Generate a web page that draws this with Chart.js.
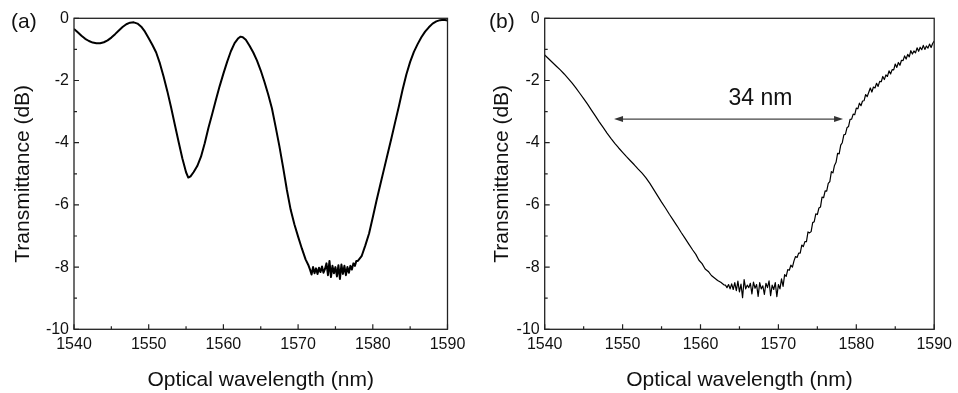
<!DOCTYPE html>
<html>
<head>
<meta charset="utf-8">
<script src="https://cdn.jsdelivr.net/npm/chart.js@4.4.1/dist/chart.umd.min.js"></script>
<style>
html,body{margin:0;padding:0;background:#fff;}
#wrap{position:relative;width:958px;height:393px;overflow:hidden;background:#fff;}
.panel{position:absolute;top:0;width:479px;height:393px;}
.lbl{position:absolute;font-family:"Liberation Sans",Arial,sans-serif;font-size:21px;line-height:21px;color:#111;white-space:nowrap;}
</style>
</head>
<body>
<div id="wrap">
  <div class="panel" style="left:0"><canvas id="ca"></canvas></div>
  <div class="panel" style="left:479px"><canvas id="cb"></canvas></div>
  <div class="lbl" style="left:11px;top:10px">(a)</div>
  <div class="lbl" style="left:489px;top:10px">(b)</div>
</div>
<script>
// ---------- data ----------
const panelLabels = ['(a)', '(b)'];
const xTitle = 'Optical wavelength (nm)';
const yTitle = 'Transmittance (dB)';
const xTickValues = [1540, 1550, 1560, 1570, 1580, 1590];
const xMinorTicks = [1545, 1555, 1565, 1575, 1585];
const yTickValues = [0, -2, -4, -6, -8, -10];
const yMinorTicks = [-1, -3, -5, -7, -9];

// panel (a)
const wavelengthA = [
  1540,1540.5,1541,1541.5,1542,1542.5,1543,1543.5,1544,1544.5,
  1545,1545.5,1546,1546.5,1547,1547.5,1548,1548.5,1549,1549.5,
  1550,1550.5,1551,1551.5,1552,1552.5,1553,1553.5,1554,1554.5,
  1555,1555.3,1555.6,1556,1556.5,1557,1557.5,1558,1558.5,1559,
  1559.5,1560,1560.5,1561,1561.5,1562,1562.3,1562.6,1563,1563.5,
  1564,1564.5,1565,1565.5,1566,1566.5,1567,1567.5,1568,1568.5,
  1569,1569.5,1570,1570.5,1571,1571.4,
  1571.6,1571.8,1572.0,1572.2,1572.4,1572.6,1572.8,1573.0,1573.2,1573.4,
  1573.6,1573.8,1574.0,1574.2,1574.4,1574.6,1574.8,1575.0,1575.2,1575.4,
  1575.6,1575.8,1576.0,1576.2,1576.4,1576.6,1576.8,1577.0,1577.2,1577.4,
  1577.6,1577.8,1578.0,
  1578.5,1579,1579.5,1580,1580.5,1581,1581.5,1582,1582.5,1583,
  1583.5,1584,1584.5,1585,1585.5,1586,1586.5,1587,1587.5,1588,
  1588.5,1589,1589.5,1590
];
const transA = [
  -0.34,-0.45,-0.56,-0.66,-0.73,-0.78,-0.80,-0.80,-0.77,-0.71,
  -0.62,-0.51,-0.39,-0.28,-0.19,-0.14,-0.13,-0.17,-0.27,-0.43,
  -0.64,-0.86,-1.10,-1.45,-1.88,-2.35,-2.87,-3.42,-3.97,-4.50,
  -4.95,-5.12,-5.08,-4.95,-4.75,-4.45,-4.02,-3.52,-3.08,-2.62,
  -2.18,-1.78,-1.40,-1.06,-0.80,-0.64,-0.59,-0.61,-0.69,-0.88,
  -1.10,-1.36,-1.68,-2.05,-2.45,-2.90,-3.50,-4.12,-4.80,-5.52,
  -6.15,-6.62,-7.02,-7.40,-7.75,-7.95,
  -8.08,-8.24,-8.00,-8.20,-8.04,-8.22,-8.02,-8.16,-7.98,-8.18,
  -8.06,-7.88,-8.26,-7.80,-8.32,-7.96,-8.20,-8.00,-8.30,-7.94,
  -8.38,-7.92,-8.22,-7.96,-8.26,-8.00,-8.18,-7.96,-8.08,-7.88,
  -7.96,-7.80,-7.80,
  -7.65,-7.30,-6.92,-6.40,-5.86,-5.35,-4.85,-4.35,-3.85,-3.33,
  -2.82,-2.28,-1.80,-1.40,-1.08,-0.83,-0.61,-0.43,-0.29,-0.17,
  -0.10,-0.06,-0.05,-0.07
];

// panel (b)
const wavelengthB = [
  1540,1540.5,1541,1541.5,1542,1542.5,1543,1543.5,1544,1544.5,
  1545,1545.5,1546,1546.5,1547,1547.5,1548,1548.5,1549,1549.5,
  1550,1550.5,1551,1551.5,1552,1552.5,1553,1553.5,1554,1554.5,
  1555,1555.5,1556,1556.5,1557,1557.5,1558,1558.5,1559,1559.4,
  1559.8,1560.2,1560.6,1561.0,1561.4,1561.8,1562.2,1562.6,1563.0,
  1563.2,1563.4,1563.6,1563.8,1564.0,1564.2,1564.4,1564.6,1564.8,1565.0,
  1565.2,1565.4,1565.6,1565.8,1566.0,1566.2,1566.4,1566.6,1566.8,1567.0,
  1567.2,1567.4,1567.6,1567.8,1568.0,1568.2,1568.4,1568.6,1568.8,1569.0,
  1569.2,1569.4,1569.6,1569.8,1570.0,1570.2,1570.4,1570.6,1570.8,
  1571.0,1571.2,1571.4,1571.6,1571.8,1572.0,1572.2,1572.4,1572.6,1572.8,
  1573.0,1573.2,1573.4,1573.6,1573.8,1574.0,1574.2,1574.4,1574.6,1574.8,
  1575.0,1575.2,1575.4,1575.6,1575.8,1576.0,1576.2,1576.4,1576.6,1576.8,
  1577.0,1577.2,1577.4,1577.6,1577.8,1578.0,1578.2,1578.4,1578.6,1578.8,
  1579.0,1579.2,1579.4,1579.6,1579.8,1580.0,1580.2,1580.4,1580.6,1580.8,
  1581.0,1581.2,1581.4,1581.6,1581.8,1582.0,1582.2,1582.4,1582.6,1582.8,
  1583.0,1583.2,1583.4,1583.6,1583.8,1584.0,1584.2,1584.4,1584.6,1584.8,
  1585.0,1585.2,1585.4,1585.6,1585.8,1586.0,1586.2,1586.4,1586.6,1586.8,
  1587.0,1587.2,1587.4,1587.6,1587.8,1588.0,1588.2,1588.4,1588.6,1588.8,
  1589.0,1589.2,1589.4,1589.6,1589.8,1590.0
];
const transB = [
  -1.18,-1.30,-1.42,-1.54,-1.66,-1.79,-1.93,-2.08,-2.24,-2.41,
  -2.58,-2.76,-2.95,-3.14,-3.33,-3.51,-3.69,-3.86,-4.02,-4.17,
  -4.31,-4.45,-4.58,-4.71,-4.85,-4.98,-5.13,-5.31,-5.51,-5.71,
  -5.91,-6.10,-6.30,-6.49,-6.68,-6.88,-7.07,-7.26,-7.45,-7.59,
  -7.78,-7.89,-8.06,-8.14,-8.27,-8.35,-8.43,-8.49,-8.57,
  -8.58,-8.66,-8.56,-8.70,-8.54,-8.72,-8.50,-8.76,-8.45,-8.80,
  -8.55,-8.98,-8.40,-8.70,-8.58,-8.66,-8.52,-8.86,-8.48,-8.68,
  -8.56,-8.94,-8.50,-8.70,-8.60,-8.88,-8.52,-8.66,-8.44,-8.92,
  -8.58,-8.72,-8.50,-8.95,-8.56,-8.70,-8.38,-8.62,-8.24,
  -8.30,-8.08,-8.10,-7.94,-8.00,-7.80,-7.66,-7.69,-7.55,-7.55,
  -7.29,-7.34,-7.18,-7.18,-6.87,-6.90,-6.86,-6.57,-6.54,-6.29,
  -6.31,-6.10,-6.07,-5.75,-5.77,-5.55,-5.56,-5.31,-5.25,-4.93,
  -4.97,-4.73,-4.63,-4.34,-4.36,-4.08,-4.00,-3.75,-3.73,-3.52,
  -3.48,-3.25,-3.24,-3.08,-3.10,-2.89,-2.91,-2.73,-2.81,-2.66,
  -2.65,-2.45,-2.52,-2.38,-2.24,-2.37,-2.21,-2.24,-2.09,-2.19,
  -2.03,-2.04,-1.87,-1.97,-1.82,-1.87,-1.69,-1.79,-1.65,-1.66,
  -1.47,-1.58,-1.42,-1.51,-1.35,-1.36,-1.21,-1.31,-1.16,-1.24,
  -1.04,-1.15,-1.05,-1.11,-0.95,-1.06,-0.93,-1.01,-0.87,-1.00,
  -0.89,-0.96,-0.83,-0.94,-0.81,-0.73
];

// annotation in panel (b)
const arrowRange = [1548.9, 1578.3];
const arrowLevel = -3.24;
const arrowText = '34 nm';
const arrowTextPos = [1567.7, -2.57];

// ---------- drawing ----------
const FAMILY = '"Liberation Sans", Arial, Helvetica, sans-serif';
const INK = '#111';

const decor = {
  id: 'decor',
  afterDatasetsDraw(chart) {
    const {ctx, chartArea: a, scales: {x, y}} = chart;
    ctx.save();
    ctx.strokeStyle = '#222';
    ctx.lineWidth = 1.3;
    ctx.strokeRect(a.left, a.top, a.right - a.left, a.bottom - a.top);
    ctx.lineWidth = 1.2;
    ctx.beginPath();
    const tick = (vals, len) => {
      vals.forEach(v => {
        const px = x.getPixelForValue(v);
        ctx.moveTo(px, a.bottom); ctx.lineTo(px, a.bottom - len);
      });
    };
    const ytick = (vals, len) => {
      vals.forEach(v => {
        const py = y.getPixelForValue(v);
        ctx.moveTo(a.left, py); ctx.lineTo(a.left + len, py);
      });
    };
    tick(xTickValues, 5); tick(xMinorTicks, 3);
    ytick(yTickValues, 5); ytick(yMinorTicks, 3);
    ctx.stroke();
    ctx.restore();
  }
};

const arrowPlugin = {
  id: 'arrow',
  afterDatasetsDraw(chart) {
    const {ctx, scales: {x, y}} = chart;
    const x1 = x.getPixelForValue(arrowRange[0]);
    const x2 = x.getPixelForValue(arrowRange[1]);
    const py = y.getPixelForValue(arrowLevel);
    ctx.save();
    ctx.strokeStyle = '#444';
    ctx.fillStyle = '#333';
    ctx.lineWidth = 1.3;
    ctx.beginPath();
    ctx.moveTo(x1 + 6, py); ctx.lineTo(x2 - 6, py);
    ctx.stroke();
    ctx.beginPath();
    ctx.moveTo(x1, py); ctx.lineTo(x1 + 9, py - 3); ctx.lineTo(x1 + 9, py + 3); ctx.closePath();
    ctx.moveTo(x2, py); ctx.lineTo(x2 - 9, py - 3); ctx.lineTo(x2 - 9, py + 3); ctx.closePath();
    ctx.fill();
    ctx.fillStyle = INK;
    ctx.font = '23px ' + FAMILY;
    ctx.textAlign = 'center';
    ctx.textBaseline = 'middle';
    ctx.fillText(arrowText, x.getPixelForValue(arrowTextPos[0]), y.getPixelForValue(arrowTextPos[1]));
    ctx.restore();
  }
};

function makeChart(id, xs, ys, lineWidth, yAxisWidth, padRight, extraPlugins) {
  const pts = xs.map((v, i) => ({x: v, y: ys[i]}));
  return new Chart(document.getElementById(id), {
    type: 'line',
    data: {datasets: [{data: pts, borderColor: '#000', borderWidth: lineWidth,
      pointRadius: 0, tension: 0, fill: false, borderJoinStyle: 'round'}]},
    options: {
      responsive: true, maintainAspectRatio: false, animation: false, devicePixelRatio: 1,
      layout: {padding: {left: 0, right: padRight, top: 18.3, bottom: 0}},
      plugins: {legend: {display: false}, tooltip: {enabled: false}, title: {display: false}},
      scales: {
        x: {
          type: 'linear', min: 1540, max: 1590,
          afterBuildTicks: s => { s.ticks = xTickValues.map(v => ({value: v})); },
          afterFit: s => { s.height = 63.7; },
          grid: {display: false, drawTicks: false}, border: {display: false},
          ticks: {color: INK, font: {family: FAMILY, size: 16}, padding: 6,
            maxRotation: 0, autoSkip: false, callback: v => String(v)},
          title: {display: true, text: xTitle, color: INK,
            font: {family: FAMILY, size: 21}, padding: {top: 0, bottom: 0}}
        },
        y: {
          type: 'linear', min: -10, max: 0,
          afterBuildTicks: s => { s.ticks = yTickValues.map(v => ({value: v})); },
          afterFit: s => { s.width = yAxisWidth; },
          grid: {display: false, drawTicks: false}, border: {display: false},
          ticks: {color: INK, font: {family: FAMILY, size: 16}, padding: 5,
            autoSkip: false, callback: v => String(v)},
          title: {display: true, text: yTitle, color: INK,
            font: {family: FAMILY, size: 21}, padding: {top: 10.5, bottom: 0}}
        }
      }
    },
    plugins: [decor].concat(extraPlugins)
  });
}

makeChart('ca', wavelengthA, transA, 2, 74, 31.5, []);
makeChart('cb', wavelengthB, transB, 1.2, 65.7, 19, [arrowPlugin]);
</script>
</body>
</html>
